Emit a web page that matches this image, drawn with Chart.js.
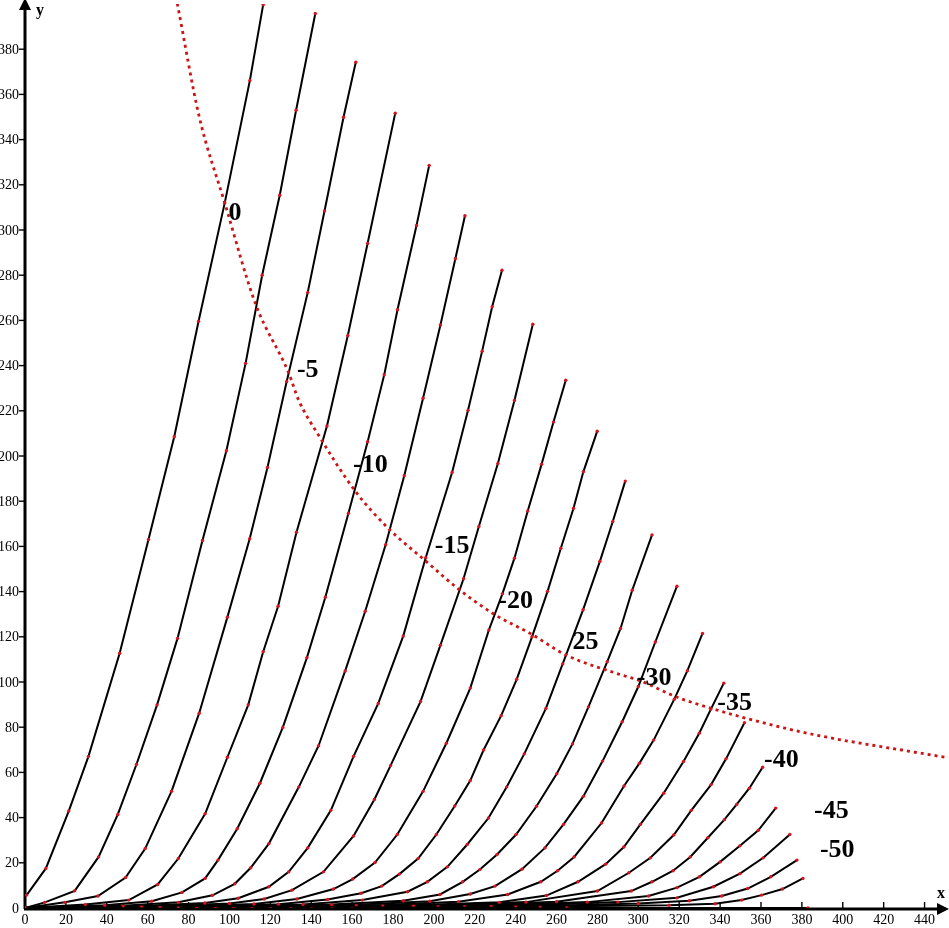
<!DOCTYPE html>
<html>
<head>
<meta charset="utf-8">
<script src="https://cdn.jsdelivr.net/npm/chart.js@4.4.1/dist/chart.umd.min.js"></script>
<style>
  html, body { margin: 0; padding: 0; background: #fff; }
  #wrap { width: 949px; height: 928px; position: relative; }
</style>
</head>
<body>
<div id="wrap"><canvas id="myChart"></canvas></div>
<script>
// temperature of each curve (label only)
const temps = [0, -2.5, -5, -7.5, -10, -12.5, -15, -17.5, -20, -22.5, -25, -27.5, -30, -32.5, -35, -37.5, -40, -42.5, -45, -47.5, -50];

// curves, [x, y]
const curve0 = [[0.8,5.7],[10.2,17.5],[21.4,42.9],[31,67],[46.3,112.7],[60.4,163],[73,208.5],[84.9,259.6],[97.7,312],[110,366.2],[116.5,399.7]];
const curve1 = [[0,0],[9.7,2.5],[24.3,7.6],[36,22.6],[45.4,41.4],[54.5,63.5],[64.6,89.9],[74.6,119.3],[86.8,162.6],[98.5,202.3],[107.9,241],[116,280],[124.6,315.4],[132.6,353],[142,395.8]];
const curve2 = [[0,0],[19.5,2.5],[35.7,5.3],[49.2,13.5],[58.8,26.3],[71.7,51.7],[85.2,86.2],[99,128.7],[109.9,163.4],[118.6,194.9],[128,233],[138.3,272.4],[146.5,308.4],[155.8,349.9],[161.8,374.2]];
const curve3 = [[0,0],[29.5,1.5],[50.8,3.5],[64.9,10.4],[75,21.9],[88.1,41.7],[99,66.7],[109.2,89.9],[116.5,113.4],[123.8,133.5],[132.8,166.3],[147.7,213.3],[157.9,253.3],[167.6,294.1],[181.1,351.7]];
const curve4 = [[0,0],[39,1.2],[62,3],[76.8,6.9],[88.1,13.1],[94.4,21.2],[103.8,35.1],[114.9,55.2],[126.1,79.9],[137.9,110.8],[146.9,137.5],[158.2,174.7],[167.6,206.3],[175.7,235.9],[182.2,264.7],[191.5,302],[197.7,328.6]];
const curve5 = [[0,0],[48,1],[75,2.5],[91.7,5.6],[102.6,10.7],[110.4,17.8],[119.3,28.5],[133.9,53.5],[143.6,71.8],[156.6,104.9],[166.4,131.3],[176.4,160.7],[185.5,191.3],[194.7,225.6],[203.2,258],[210.5,287.3],[215.2,306.3]];
const curve6 = [[0,0],[57,0.9],[88,2.2],[104.3,4.3],[119.3,9.4],[129,16],[138.3,26.6],[149.6,43.2],[160.7,67.1],[172.8,90.5],[185,120.3],[196,155],[208.9,192.7],[216.7,220.2],[223.6,246.4],[228.5,266],[233.3,282.2]];
const curve7 = [[0,0],[66,0.8],[100,2],[117,4],[130.6,7.9],[146,16],[160.7,31.9],[170.9,48],[178.8,63],[193.5,91.4],[203.2,116.3],[214.5,145.7],[222,168.8],[231.3,196.7],[239.4,224.6],[248.4,258.3]];
const curve8 = [[0,0],[75,0.7],[112,1.8],[133,4],[150.9,8.4],[160.3,12.8],[171.2,20.1],[182.1,32.5],[194.7,51.6],[206.1,72.9],[217.8,97.3],[226.9,123],[233.5,139],[239.4,154.8],[245.9,175.7],[252.7,196.4],[258.5,215],[264.5,233.5]];
const curve9 = [[0,0],[84,0.6],[124,1.7],[148,3.8],[164.4,6.5],[174.5,9.7],[183.1,15],[192.3,21.9],[201.2,32.5],[210.2,45.1],[217.8,56.4],[224.3,69.9],[232.9,85.1],[240.5,101.2],[248,120],[255.6,140.1],[262.1,159.2],[268.3,176.9],[273.1,193],[279.9,211]];
const curve10 = [[0,0],[93,0.6],[136,1.6],[165,3.5],[187.1,7.2],[196.8,11.6],[206.6,18.2],[216.3,28.1],[226.7,39.8],[235.6,53.5],[244.2,68.2],[254.8,88.3],[263,108],[273,132],[281.2,153.4],[287.5,171],[293.6,188.9]];
const curve11 = [[0,0],[102,0.5],[150,1.5],[185,3.2],[203,6],[214.1,11.6],[222.5,17],[230.9,23.7],[240.2,32.5],[250.2,45],[260.1,59.4],[267.8,72.6],[275.6,89],[284.8,109],[291.3,123.7],[297,140.6],[306.7,165.1]];
const curve12 = [[0,0],[111,0.5],[162,1.4],[198,3],[217.8,6.2],[229.9,9.7],[243.1,17.2],[254.3,26.6],[263.4,37],[273.1,49.4],[282.5,65],[292.1,82.4],[300,98],[308.3,117.7],[318.9,142.4]];
const curve13 = [[0,0],[120,0.5],[175,1.3],[212,2.8],[236.1,6],[252.3,11.6],[260.5,16.5],[268.6,22.6],[282,37.6],[293,54],[300.5,64],[307.5,74.3],[317.6,92.4],[324,105],[331.4,121.5]];
const curve14 = [[0,0],[130,0.5],[190,1.2],[232,2.5],[255,5.5],[270.5,11.6],[284,19.4],[292.9,27],[301,37],[312.4,50.8],[322.1,64.8],[329.8,77.3],[335.5,88],[341.8,99.5]];
const curve15 = [[0,0],[140,0.5],[202,1.2],[245,2.6],[280,7.5],[295.4,15.6],[305.9,22.2],[317.3,32.3],[325.9,43.2],[335.6,54.6],[342.9,66],[351.9,82]];
const curve16 = [[0,0],[150,0.5],[215,1.2],[260,2.8],[296.5,7.5],[306.7,11.6],[317,16.5],[325.4,22.6],[334,31.1],[342.1,39.1],[348.1,45.8],[354.3,53],[360.8,62.3]];
const curve17 = [[0,0],[160,0.4],[228,1.1],[275,2.6],[305,5.3],[318.9,9],[329.9,13.8],[340,20.4],[349.7,27.5],[358.7,34.4],[367.2,44.2]];
const curve18 = [[0,0],[170,0.4],[240,1],[290,2.6],[318.9,4.5],[336.7,9.4],[349.7,15.2],[361.1,22.2],[374.1,32.5]];
const curve19 = [[0,0],[180,0.3],[252,0.9],[300,2],[324.9,3.2],[340.8,5.3],[353.5,8.6],[364.8,13.8],[377.6,21.2]];
const curve20 = [[0,0],[190,0.3],[265,0.8],[315,1.2],[337.5,1.9],[350.5,3.5],[360.3,5.7],[370.5,8.4],[380.5,13.1]];
const bottomRun = [[0,0],[383,0]];

// red dotted limit line
const limitLine = [[74.5,400.2],[85.2,350.2],[97.7,312],[112.8,267.2],[129,236.7],[133.9,224.6],[143.6,209.2],[161.5,184.5],[177.7,168],[197.2,152.6],[211.8,141.3],[229.6,129.9],[247.5,121.3],[264.5,112],[289.7,103.7],[301,100.5],[317.3,93.9],[323.8,91.7],[377.3,78.4],[449.8,66.7]];

// curve labels
const labelText = ['0', '-5', '-10', '-15', '-20', '25', '-30', '-35', '-40', '-45', '-50'];
const labelX = [102.7, 138.3, 168.9, 208.9, 240, 274.1, 307.7, 347.1, 370, 394.4, 397.3];
const labelY = [307.2, 238, 196.1, 160, 135.7, 117.7, 101.8, 90.8, 65.2, 42.7, 25.6];

// axis ticks
const xTicks = [0,20,40,60,80,100,120,140,160,180,200,220,240,260,280,300,320,340,360,380,400,420,440];
const yTicks = [0,20,40,60,80,100,120,140,160,180,200,220,240,260,280,300,320,340,360,380];

const curves = [curve0, curve1, curve2, curve3, curve4, curve5, curve6, curve7, curve8, curve9, curve10,
    curve11, curve12, curve13, curve14, curve15, curve16, curve17, curve18, curve19, curve20];

function toPts(arr) {
    return arr.map(p => ({x: p[0], y: p[1]}));
}

var datasets = [];
datasets.push({
    label: 'limit',
    data: toPts(limitLine),
    showLine: true,
    borderColor: 'rgb(205,20,20)',
    borderWidth: 2.8,
    borderDash: [3, 4],
    pointRadius: 0,
    cubicInterpolationMode: 'monotone'
});
curves.concat([bottomRun]).forEach(function (c, i) {
    datasets.push({
        label: i < temps.length ? String(temps[i]) : 'base',
        data: toPts(c),
        showLine: true,
        borderColor: '#000',
        borderWidth: 2,
        tension: 0,
        pointRadius: 1.7,
        pointBorderWidth: 0,
        pointBackgroundColor: 'rgb(215,20,30)'
    });
});

// draws the arrow axes, ticks and labels
const axesPlugin = {
    id: 'axes',
    beforeDatasetsDraw(chart) {
        const ctx = chart.ctx;
        const xs = chart.scales.x, ys = chart.scales.y;
        const x0 = xs.getPixelForValue(0), y0 = ys.getPixelForValue(0);
        ctx.save();
        ctx.strokeStyle = '#000';
        ctx.fillStyle = '#000';
        ctx.lineWidth = 3;
        ctx.beginPath();
        ctx.moveTo(x0, y0 + 1);
        ctx.lineTo(x0, 6);
        ctx.moveTo(x0 - 1, y0 + 1);
        ctx.lineTo(chart.width - 8, y0 + 1);
        ctx.stroke();
        // arrow heads
        ctx.beginPath();
        ctx.moveTo(x0, -2); ctx.lineTo(x0 - 6, 10); ctx.lineTo(x0 + 6, 10); ctx.closePath();
        ctx.fill();
        ctx.beginPath();
        ctx.moveTo(chart.width, y0 + 1); ctx.lineTo(chart.width - 12, y0 - 5); ctx.lineTo(chart.width - 12, y0 + 7); ctx.closePath();
        ctx.fill();

        ctx.lineWidth = 1.4;
        ctx.font = '14px "Liberation Serif"';
        ctx.textAlign = 'center';
        ctx.textBaseline = 'middle';
        xTicks.forEach(function (v) {
            const px = xs.getPixelForValue(v);
            if (v > 0) {
                ctx.beginPath();
                ctx.moveTo(px, y0 - 6);
                ctx.lineTo(px, y0);
                ctx.stroke();
            }
            ctx.fillText(String(v), px, y0 + 12);
        });
        ctx.textAlign = 'right';
        yTicks.forEach(function (v) {
            const py = ys.getPixelForValue(v);
            if (v > 0) {
                ctx.beginPath();
                ctx.moveTo(x0 - 6, py);
                ctx.lineTo(x0, py);
                ctx.stroke();
            }
            ctx.fillText(String(v), x0 - 6, py + 1);
        });
        ctx.textAlign = 'center';
        ctx.font = 'bold 16px "Liberation Serif"';
        ctx.fillText('x', chart.width - 8, y0 - 14);
        ctx.fillText('y', x0 + 15, 11);
        ctx.restore();
    },
    afterDatasetsDraw(chart) {
        const ctx = chart.ctx;
        const xs = chart.scales.x, ys = chart.scales.y;
        ctx.save();
        ctx.fillStyle = '#000';
        ctx.font = 'bold 26px "Liberation Serif"';
        ctx.textAlign = 'center';
        ctx.textBaseline = 'middle';
        labelText.forEach(function (t, i) {
            ctx.fillText(t, xs.getPixelForValue(labelX[i]), ys.getPixelForValue(labelY[i]));
        });
        ctx.restore();
    }
};

var ctx = document.getElementById('myChart').getContext('2d');
var myChart = new Chart(ctx, {
    type: 'scatter',
    data: { datasets: datasets },
    options: {
        responsive: true,
        maintainAspectRatio: false,
        animation: false,
        layout: { padding: { left: 25, right: 0, top: 0, bottom: 20 } },
        scales: {
            x: { type: 'linear', min: 0, max: 450, display: false },
            y: { type: 'linear', min: 0, max: 400, display: false }
        },
        plugins: {
            legend: { display: false },
            tooltip: { enabled: false }
        }
    },
    plugins: [axesPlugin]
});
</script>
</body>
</html>
